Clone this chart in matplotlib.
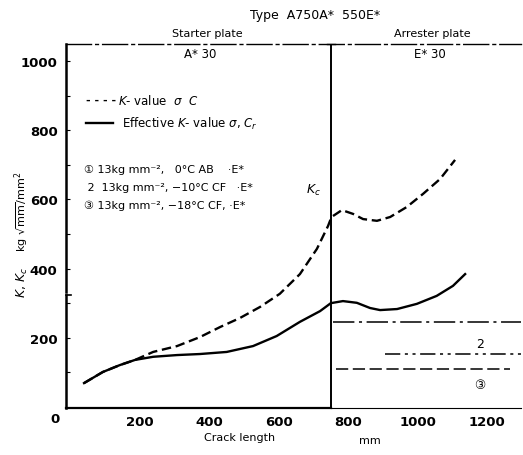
import matplotlib
matplotlib.use("Agg")
import matplotlib.pyplot as plt
import numpy as np

# ---- data ----
k_x = [39, 93, 142, 186, 238, 307, 373, 431, 488, 546, 603, 661, 710, 742, 752,
       782, 814, 843, 883, 921, 969, 1016, 1065, 1108]
k_y = [69, 101, 121, 136, 159, 176, 202, 231, 257, 289, 327, 384, 457, 523, 549,
       569, 558, 543, 538, 549, 578, 616, 659, 714]

kr_x = [39, 93, 142, 186, 238, 307, 373, 450, 526, 594, 661, 719, 750,
        785, 825, 863, 892, 941, 998, 1055, 1102, 1137]
kr_y = [69, 101, 121, 136, 145, 150, 153, 159, 176, 205, 246, 277, 300,
        306, 301, 286, 280, 283, 298, 321, 350, 384]

lvl_y = [246, 153, 110]
lvl_x0 = [755, 905, 765]
lvl_x1 = [1300, 1300, 1265]

plate_boundary = 750
x_ticks = [200, 400, 600, 800, 1000, 1200]
y_ticks = [200, 400, 600, 800, 1000]

plt.rcParams['font.family'] = ['DejaVu Sans', 'Noto Sans CJK JP']

fig = plt.figure(figsize=(5.23, 4.56), dpi=100)
ax = fig.add_axes([66/523, 1-409/456, (521-66)/523, (409-45)/456])
ax.set_xlim(-13, 1298)
ax.set_ylim(-3, 1049)

# curves
ax.plot(k_x, k_y, color='black', lw=1.7, linestyle=(0, (4, 2)), solid_joinstyle='round')
ax.plot(kr_x, kr_y, color='black', lw=1.7, solid_joinstyle='round')

# arrest levels
styles = [(0, (14, 3, 2, 3)), (0, (10, 3, 2, 3, 2, 3)), (0, (8, 3))]
for y, a, b, s in zip(lvl_y, lvl_x0, lvl_x1, styles):
    ax.plot([a, b], [y, y], color='black', lw=1.1, linestyle=s)
ax.text(1180, 182, "2", fontsize=9, ha='center', va='center')
ax.text(1180, 66, "③", fontsize=9, ha='center', va='center')

# plate boundary
ax.axvline(plate_boundary, color='black', lw=1.4)
ax.plot([plate_boundary - 12, plate_boundary + 12], [1049, 1049], color='black', lw=1.0, clip_on=False)

# spines
for s in ['right', 'left']:
    ax.spines[s].set_visible(False)
ax.spines['top'].set_linestyle((0, (18, 3, 2, 3)))
ax.spines['top'].set_linewidth(1.0)
ax.spines['bottom'].set_linewidth(1.6)
ax.spines['bottom'].set_bounds(-13, plate_boundary)
ax.plot([plate_boundary, 1298], [-3, -3], color='black', lw=0.8, clip_on=False)
# broken left axis
tr = ax.get_yaxis_transform()
ax.plot([0, 0], [-3, 325], transform=tr, color='black', lw=1.8, clip_on=False)
ax.plot([0, 0.012], [325, 325], transform=tr, color='black', lw=1.2, clip_on=False)
ax.plot([0, 0], [333, 1049], transform=tr, color='black', lw=1.8, clip_on=False)

ax.set_xticks(x_ticks)
ax.set_xticklabels([str(v) for v in x_ticks], fontsize=9.5)
ax.set_yticks(y_ticks)
ax.set_yticklabels([str(v) for v in y_ticks], fontsize=9.5, fontweight='bold')
ax.set_yticks(np.arange(100, 1001, 200), minor=True)
ax.tick_params(axis='x', length=0, pad=5)
ax.tick_params(axis='y', which='both', direction='in', length=3, width=0.8, pad=6)
for lab in ax.get_xticklabels():
    lab.set_fontweight('bold')

fig.text(55/523, 1-420/456, "0", fontsize=9.5, fontweight='bold', ha='center', va='center')

# titles / annotations
fig.text(315/523, 1-15/456, "Type  A750A*  550E*", fontsize=9, ha='center', va='center')
fig.text(207/523, 1-34/456, "Starter plate", fontsize=8, ha='center', va='center')
fig.text(432/523, 1-34/456, "Arrester plate", fontsize=8, ha='center', va='center')
fig.text(200/523, 1-55/456, "A* 30", fontsize=8.5, ha='center', va='center')
fig.text(430/523, 1-55/456, "E* 30", fontsize=8.5, ha='center', va='center')

# legend-like texts
fig.text(86/523, 1-101/456, "- - - -", fontsize=8, ha='left', va='center', fontweight='bold')
fig.text(118/523, 1-101/456, r"$K$- value  $\sigma$  $C$", fontsize=8.5, ha='left', va='center')
fig.add_artist(plt.Line2D([86/523, 113/523], [1-124/456, 1-124/456], color='black', lw=1.7))
fig.text(122/523, 1-124/456, r"Effective $K$- value $\sigma$, $C_r$", fontsize=8.5, ha='left', va='center')
fig.text(84/523, 1-170/456, "① 13kg mm⁻²,   0°C AB    ·E*", fontsize=8, ha='left', va='center')
fig.text(84/523, 1-188/456, " 2  13kg mm⁻², −10°C CF   ·E*", fontsize=8, ha='left', va='center')
fig.text(84/523, 1-206/456, "③ 13kg mm⁻², −18°C CF, ·E*", fontsize=8, ha='left', va='center')
fig.text(313/523, 1-190/456, r"$K_c$", fontsize=9, ha='center', va='center')

# axis labels
fig.text(22/523, 1-212/456, r"kg $\sqrt{\mathrm{mm}}$/mm$^2$", fontsize=8, rotation=90, ha='center', va='center')
fig.text(22/523, 1-282/456, r"$K$, $K_c$", fontsize=9, rotation=90, ha='center', va='center')
fig.text(240/523, 1-438/456, "Crack length", fontsize=8, ha='center', va='center')
fig.text(370/523, 1-441/456, "mm", fontsize=8, ha='center', va='center')

fig.savefig("out.png", dpi=100)
